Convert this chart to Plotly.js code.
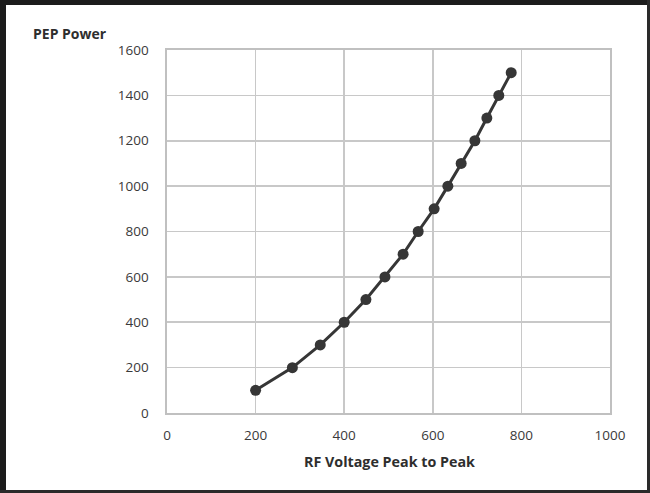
<!DOCTYPE html>
<html>
<head>
<meta charset="utf-8">
<script src="https://cdn.plot.ly/plotly-3.0.1.min.js"></script>
<style>
  html, body { margin: 0; padding: 0; background: #ffffff; overflow: hidden; }
  #chart { width: 650px; height: 493px; }
</style>
</head>
<body>
<div id="chart"></div>
<script>
// Data
const rfVoltagePP = [200, 283, 346, 400, 449, 492, 533, 567, 603, 634, 664, 695, 722, 749, 777];
const pepPower    = [100, 200, 300, 400, 500, 600, 700, 800, 900, 1000, 1100, 1200, 1300, 1400, 1500];
const xTicks = [0, 200, 400, 600, 800, 1000];
const yTicks = [0, 200, 400, 600, 800, 1000, 1200, 1400, 1600];
const yTitle = "PEP Power";
const xTitle = "RF Voltage Peak to Peak";

const fontFam = "'Open Sans', 'Liberation Sans', Arial, sans-serif";

const W = 650, H = 493;
const M = { l: 167, r: 40, t: 50, b: 80 };
const pw = W - M.l - M.r, ph = H - M.t - M.b;
// pixel -> paper helpers for the outer picture frame
const px = v => (v - M.l) / pw;
const py = v => (H - M.b - v) / ph;
function frameRect(x0, y0, x1, y1, col) {
  return { type: 'rect', xref: 'paper', yref: 'paper', layer: 'above',
    x0: px(x0), x1: px(x1), y0: py(y1), y1: py(y0),
    fillcolor: col, line: { width: 0 } };
}

const trace = {
  x: rfVoltagePP,
  y: pepPower,
  type: 'scatter',
  mode: 'lines+markers',
  line: { color: '#363636', width: 3 },
  marker: { color: '#363636', size: 11 },
  cliponaxis: false,
  showlegend: false
};

const layout = {
  width: W,
  height: H,
  margin: M,
  paper_bgcolor: '#ffffff',
  plot_bgcolor: '#ffffff',
  font: { family: fontFam, size: 13, color: '#3a3a3a' },
  xaxis: {
    range: [0, 1000],
    tickvals: xTicks,
    ticktext: xTicks.map(String),
    showgrid: true,
    gridcolor: '#c8c8c8',
    gridwidth: 1.6,
    zeroline: false,
    showline: true,
    linecolor: '#c0c0c0',
    linewidth: 1.6,
    mirror: true,
    ticks: '',
    ticklabelstandoff: 9,
    tickfont: { family: fontFam, size: 13.5, color: '#3a3a3a' }
  },
  yaxis: {
    range: [0, 1600],
    tickvals: yTicks,
    ticktext: yTicks.map(String),
    showgrid: true,
    gridcolor: '#c8c8c8',
    gridwidth: 1.6,
    zeroline: false,
    showline: true,
    linecolor: '#c0c0c0',
    linewidth: 1.6,
    mirror: true,
    ticks: '',
    ticklabelstandoff: 14,
    tickfont: { family: fontFam, size: 13.5, color: '#3a3a3a' }
  },
  shapes: [
    frameRect(0, 0, 6, H, '#1c1c1c'),
    frameRect(0, 0, W, 5, '#1c1c1c'),
    frameRect(W - 3, 0, W, H, '#2a2a2a'),
    frameRect(0, H - 3, W, H, '#2a2a2a')
  ],
  annotations: [
    {
      text: '<b>' + yTitle + '</b>',
      xref: 'paper', yref: 'paper',
      x: px(31), y: py(33),
      xanchor: 'left', yanchor: 'middle',
      showarrow: false,
      font: { family: fontFam, size: 14, color: '#2e2e2e' }
    },
    {
      text: '<b>' + xTitle + '</b>',
      xref: 'paper', yref: 'paper',
      x: px(389), y: py(461),
      xanchor: 'center', yanchor: 'middle',
      showarrow: false,
      font: { family: fontFam, size: 14.3, color: '#2e2e2e' }
    }
  ]
};

Plotly.newPlot('chart', [trace], layout, { staticPlot: true, displayModeBar: false });
</script>
</body>
</html>
